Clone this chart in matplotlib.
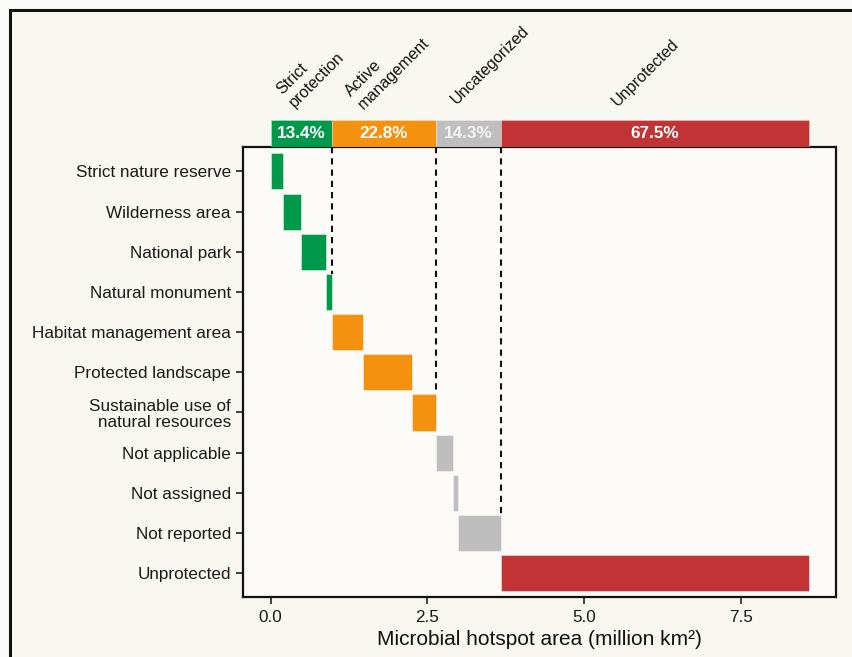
import numpy as np
import matplotlib.pyplot as plt
from matplotlib.patches import Rectangle

# Protected-area categories, top to bottom
categories = ['Strict nature reserve', 'Wilderness area', 'National park',
              'Natural monument', 'Habitat management area', 'Protected landscape',
              'Sustainable use of\nnatural resources', 'Not applicable',
              'Not assigned', 'Not reported', 'Unprotected']
# area covered by each category (million km2)
areas = [0.19, 0.29, 0.40, 0.095, 0.505, 0.77, 0.385, 0.28, 0.07, 0.69, 4.915]
# group each category belongs to
cat_group = [0, 0, 0, 0, 1, 1, 1, 2, 2, 2, 3]

group_names = ['Strict\nprotection', 'Active\nmanagement', 'Uncategorized', 'Unprotected']
group_pct = ['13.4%', '22.8%', '14.3%', '67.5%']
group_colors = ['#00984a', '#f4910f', '#bebebe', '#c13334']
group_text = ['white', 'white', '#f4f4f4', 'white']
# baseline start of the last line of each rotated group header
# (x in million km2, y as a fraction of the strip height)
header_x = [0.355, 1.455, 2.96, 5.54]
header_y = [1.52, 1.45, 1.56, 1.49]

plt.rcParams['font.family'] = ['Liberation Sans', 'DejaVu Sans']

bg = '#f8f7f2'
fs = 12.3
fig = plt.figure(figsize=(8.53, 6.57), dpi=100, facecolor='#fbfbfa')
# outer frame
fig.patches.append(Rectangle((9.5 / 853, -0.02), 1.05, 1 - 10 / 657 + 0.02,
                             transform=fig.transFigure, facecolor=bg,
                             edgecolor='#111111', linewidth=2.2, zorder=-10))

ax = fig.add_axes([0.2852, 0.0909, 0.6949, 0.6849])
top = fig.add_axes([0.2852, 0.7763, 0.6949, 0.0411], sharex=ax)

starts = np.concatenate([[0], np.cumsum(areas)[:-1]])
ends = starts + np.array(areas)
rows = np.arange(len(categories))
colors = [group_colors[g] for g in cat_group]

ax.set_facecolor('#fcfbf8')
ax.barh(rows, areas, left=starts, height=0.9, color=colors,
        edgecolor=(1, 1, 1, 0.5), linewidth=0.6, zorder=2)

# dashed separators at the end of each group
for g in range(3):
    last = max(i for i, c in enumerate(cat_group) if c == g)
    ax.plot([ends[last], ends[last]], [-0.6, last - 0.45], color='#111111',
            linestyle=(0, (3.0, 2.4)), linewidth=1.5, zorder=3)

ax.set_ylim(10.6, -0.6)
ax.set_xlim(-0.437, 9.02)
ax.set_yticks(rows)
ax.set_yticklabels(categories, fontsize=fs, color='#1a1a1a', linespacing=1.05)
ax.set_xticks([0, 2.5, 5.0, 7.5])
ax.set_xticklabels(['0.0', '2.5', '5.0', '7.5'], fontsize=fs, color='#1a1a1a')
ax.tick_params(axis='both', length=5, width=1.3, color='#333333', pad=4)
for s in ax.spines.values():
    s.set_linewidth(1.6)
    s.set_color('#111111')
ax.set_xlabel('Microbial hotspot area (million km²)', fontsize=15,
              color='#111111', labelpad=4)

# group strip above the panel
group_area = [sum(a for a, c in zip(areas, cat_group) if c == g) for g in range(4)]
group_start = np.concatenate([[0], np.cumsum(group_area)[:-1]])
top.barh(0.5, group_area, left=group_start, height=1.0, color=group_colors,
         edgecolor=(1, 1, 1, 0.4), linewidth=0.5)
for g in range(4):
    top.text(group_start[g] + group_area[g] / 2, 0.5, group_pct[g], ha='center',
             va='center', color=group_text[g], fontsize=fs, fontweight='bold')
    top.text(header_x[g], header_y[g], group_names[g], rotation=45,
             rotation_mode='anchor', ha='left', va='baseline', fontsize=11.6,
             color='#111111', linespacing=1.2, transform=top.get_xaxis_transform())
top.set_ylim(0, 1)
top.axis('off')

fig.savefig('out.png', dpi=100, facecolor=fig.get_facecolor())
